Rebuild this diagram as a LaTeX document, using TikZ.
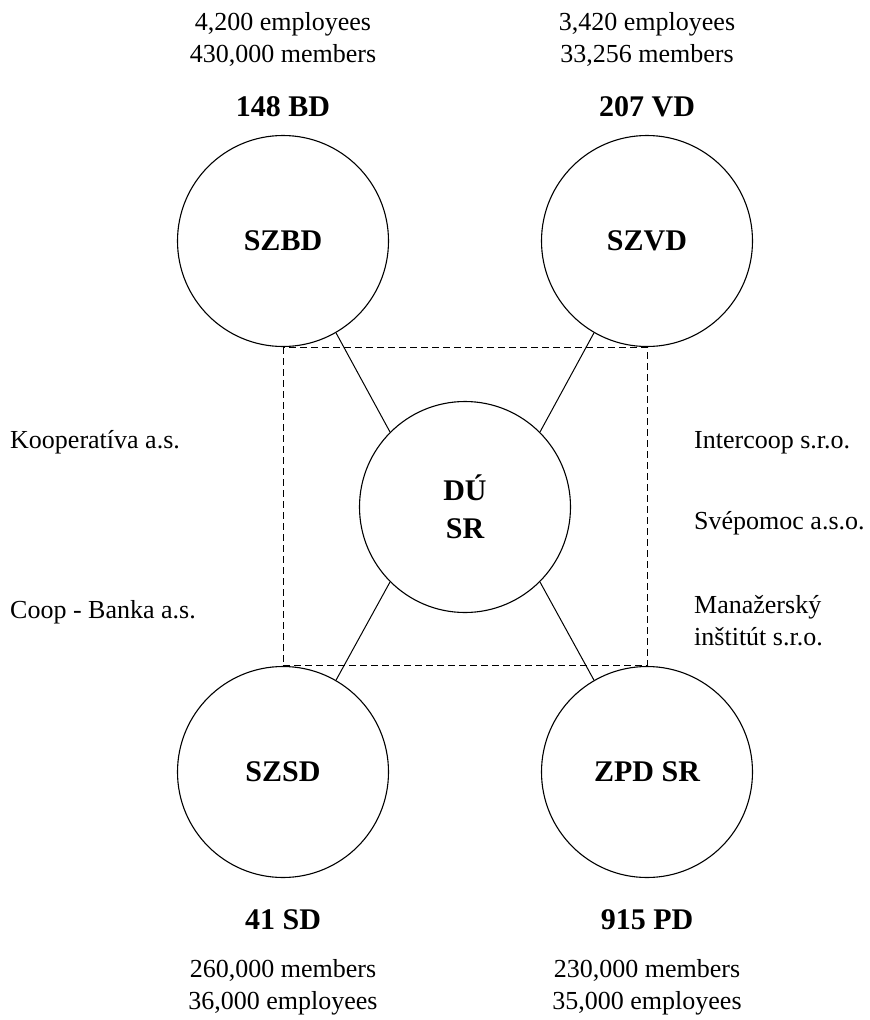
\documentclass[tikz,border=0pt]{standalone}
\usepackage{fontspec}
\setmainfont{Liberation Serif}
\begin{document}
\begin{tikzpicture}[x=1pt,y=-1pt,
  org/.style={circle, draw, line width=1.1pt, minimum size=211pt, inner sep=0pt,
    font=\fontsize{30}{38}\selectfont\bfseries, align=center},
  lbl/.style={font=\fontsize{30}{32}\selectfont\bfseries, inner sep=0pt},
  info/.style={font=\fontsize{26}{32}\selectfont, align=center, inner sep=0pt},
  side/.style={font=\fontsize{26}{32}\selectfont, anchor=west, align=left, inner sep=0pt},
  link/.style={line width=1pt},
  grp/.style={line width=1pt, dash pattern=on 7pt off 4pt}]
\useasboundingbox (0,0) rectangle (870,1020);
% circles
\node[org] (szbd) at (283,241) {SZBD};
\node[org] (szvd) at (647,241) {SZVD};
\node[org] (du) at (465,507) {DÚ\\SR};
\node[org] (szsd) at (283,772) {SZSD};
\node[org] (zpd) at (647,772) {ZPD SR};
% dashed group
\draw[grp] (szbd.south) rectangle (zpd.north);
% connectors
\draw[link] (szbd.-60) -- (du.135);
\draw[link] (szvd.-120) -- (du.45);
\draw[link] (szsd.60) -- (du.-135);
\draw[link] (zpd.120) -- (du.-45);
% top labels
\node[info] (bdinfo) at (283,39) {4,200 employees\\430,000 members};
\node[lbl] (bd) at (283,107) {148 BD};
\node[info] (vdinfo) at (647,39) {3,420 employees\\33,256 members};
\node[lbl] (vd) at (647,107) {207 VD};
% bottom labels
\node[lbl] (sd) at (283,920) {41 SD};
\node[info] (sdinfo) at (283,987) {260,000 members\\36,000 employees};
\node[lbl] (pd) at (647,920) {915 PD};
\node[info] (pdinfo) at (647,987) {230,000 members\\35,000 employees};
% side companies
\node[side] (koop) at (10,442) {Kooperatíva a.s.};
\node[side] (coop) at (10,612) {Coop - Banka a.s.};
\node[side] (inter) at (694,443) {Intercoop s.r.o.};
\node[side] (svep) at (694,523) {Svépomoc a.s.o.};
\node[side] (man) at (694,621) {Manažerský\\inštitút s.r.o.};
\end{tikzpicture}
\end{document}
